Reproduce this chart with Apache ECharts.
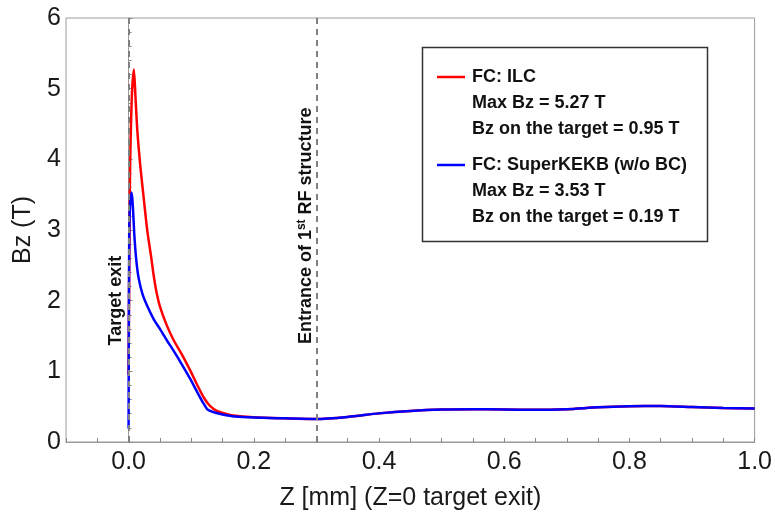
<!DOCTYPE html>
<html>
<head>
<meta charset="utf-8">
<script src="https://cdn.jsdelivr.net/npm/echarts@6/dist/echarts.min.js"></script>
<style>
  html, body { margin: 0; padding: 0; background: #fff; }
  #chart { width: 775px; height: 519px; }
</style>
</head>
<body>
<div id="chart"></div>
<script>
// Axial field Bz (T) along Z (mm) for two flux-concentrator designs
const zIlc = [0, 0.002, 0.005, 0.0085, 0.011, 0.014, 0.019, 0.025, 0.03, 0.036, 0.04, 0.045, 0.05, 0.061, 0.072, 0.085, 0.098, 0.11, 0.12, 0.13, 0.141, 0.155, 0.167, 0.2, 0.25, 0.3, 0.35, 0.4, 0.45, 0.5, 0.55, 0.6, 0.65, 0.7, 0.75, 0.8, 0.85, 0.9, 0.95, 1.0];
const bzIlc = [0.95, 3.6, 4.85, 5.27, 4.88, 4.4, 3.88, 3.38, 2.98, 2.62, 2.36, 2.1, 1.92, 1.65, 1.44, 1.24, 1.02, 0.8, 0.63, 0.51, 0.44, 0.4, 0.375, 0.35, 0.335, 0.325, 0.355, 0.405, 0.44, 0.46, 0.465, 0.46, 0.455, 0.465, 0.49, 0.505, 0.51, 0.495, 0.48, 0.475];

const zKekb = [0, 0.001, 0.003, 0.005, 0.007, 0.009, 0.012, 0.016, 0.022, 0.03, 0.04, 0.05, 0.061, 0.072, 0.085, 0.098, 0.11, 0.12, 0.126, 0.135, 0.15, 0.17, 0.2, 0.25, 0.3, 0.35, 0.4, 0.45, 0.5, 0.55, 0.6, 0.65, 0.7, 0.75, 0.8, 0.85, 0.9, 0.95, 1.0];
const bzKekb = [0.19, 3.0, 3.45, 3.53, 3.3, 2.95, 2.6, 2.32, 2.1, 1.92, 1.74, 1.6, 1.44, 1.29, 1.1, 0.9, 0.7, 0.54, 0.46, 0.425, 0.39, 0.36, 0.345, 0.335, 0.325, 0.355, 0.405, 0.44, 0.46, 0.465, 0.46, 0.455, 0.465, 0.49, 0.505, 0.51, 0.495, 0.48, 0.475];

const markerZ = [0, 0.305];
const xRange = [-0.1, 1.0];
const yRange = [0, 6];

const FONT = '"Liberation Sans", Arial, sans-serif';
const pairs = (xs, ys) => xs.map((x, i) => [x, ys[i]]);
const maxOf = ys => Math.max.apply(null, ys);

const chart = echarts.init(document.getElementById('chart'));

chart.setOption({
  animation: false,
  backgroundColor: '#fff',
  grid: { left: 66, right: 20, top: 18, bottom: 77, show: true, borderColor: '#9a9a9a', borderWidth: 1 },
  xAxis: {
    type: 'value', min: xRange[0], max: xRange[1], interval: 0.05,
    name: 'Z [mm] (Z=0 target exit)', nameLocation: 'middle', nameGap: 44,
    nameTextStyle: { fontFamily: FONT, fontSize: 25, color: '#1a1a1a' },
    axisLine: { lineStyle: { color: '#9a9a9a', width: 1 } },
    axisTick: { inside: true, length: 4, lineStyle: { color: '#888' } },
    axisLabel: {
      fontFamily: FONT, fontSize: 25, color: '#1a1a1a', margin: 8, showMaxLabel: true,
      formatter: v => {
        const k = v / 0.2;
        return Math.abs(k - Math.round(k)) < 1e-6 ? v.toFixed(1) : '';
      }
    },
    splitLine: { show: false }
  },
  yAxis: {
    type: 'value', min: yRange[0], max: yRange[1], interval: 1,
    name: 'Bz (T)', nameLocation: 'middle', nameGap: 30,
    nameTextStyle: { fontFamily: FONT, fontSize: 25, color: '#1a1a1a' },
    axisLine: { lineStyle: { color: '#9a9a9a', width: 1 } },
    axisTick: { inside: true, length: 4, lineStyle: { color: '#888' } },
    minorTick: { show: true, splitNumber: 5, length: 3, lineStyle: { color: '#888' } },
    axisLabel: { fontFamily: FONT, fontSize: 25, color: '#1a1a1a', margin: 5 },
    splitLine: { show: false }
  },
  series: [
    {
      name: 'FC: ILC', type: 'line', data: pairs(zIlc, bzIlc),
      showSymbol: false, smooth: 0.25, z: 2,
      lineStyle: { color: '#ff0000', width: 2.5 }
    },
    {
      name: 'FC: SuperKEKB (w/o BC)', type: 'line', data: pairs(zKekb, bzKekb),
      showSymbol: false, smooth: 0.25, z: 3,
      lineStyle: { color: '#0000ff', width: 2.5 },
      markLine: {
        silent: true, symbol: 'none', z: 5,
        label: { show: false },
        lineStyle: { color: '#808080', width: 2, type: [6, 5] },
        data: markerZ.map(z => ({ xAxis: z }))
      }
    }
  ]
});

// Annotations and the legend box
const p0 = chart.convertToPixel({ gridIndex: 0 }, [markerZ[0], 2.0]);
const p1 = chart.convertToPixel({ gridIndex: 0 }, [markerZ[1], 3.06]);

const bold = { fontFamily: FONT, fontSize: 18, fontWeight: 'bold', fill: '#111' };
const legendRows = [
  { color: '#ff0000', lines: ['FC: ILC', 'Max Bz = ' + maxOf(bzIlc).toFixed(2) + ' T', 'Bz on the target = ' + bzIlc[0].toFixed(2) + ' T'] },
  { color: '#0000ff', lines: ['FC: SuperKEKB (w/o BC)', 'Max Bz = ' + maxOf(bzKekb).toFixed(2) + ' T', 'Bz on the target = ' + bzKekb[0].toFixed(2) + ' T'] }
];

const graphics = [
  {
    type: 'text', x: p0[0] - 13, y: p0[1], rotation: Math.PI / 2,
    style: Object.assign({ text: 'Target exit', align: 'center', verticalAlign: 'middle' }, bold)
  },
  {
    type: 'text', x: p1[0] - 14, y: p1[1], rotation: Math.PI / 2,
    style: {
      text: '{a|Entrance of 1}{s|st}{a| RF structure}',
      align: 'center', verticalAlign: 'middle',
      rich: {
        a: { fontFamily: FONT, fontSize: 18, fontWeight: 'bold', fill: '#111' },
        s: { fontFamily: FONT, fontSize: 12, fontWeight: 'bold', fill: '#111', verticalAlign: 'top', padding: [0, 0, 8, 0] }
      }
    }
  },
  {
    type: 'rect', shape: { x: 422.5, y: 47.5, width: 285, height: 194 },
    style: { fill: '#fff', stroke: '#333', lineWidth: 1.5 }, z: 10
  }
];

legendRows.forEach((row, r) => {
  const top = 77 + r * 88;
  graphics.push({
    type: 'line', shape: { x1: 437, y1: top, x2: 465, y2: top },
    style: { stroke: row.color, lineWidth: 2.5 }, z: 11
  });
  row.lines.forEach((t, i) => {
    graphics.push({
      type: 'text', x: 472, y: top + i * 26, z: 11,
      style: Object.assign({ text: t, align: 'left', verticalAlign: 'middle' }, bold)
    });
  });
});

chart.setOption({ graphic: graphics });
</script>
</body>
</html>
